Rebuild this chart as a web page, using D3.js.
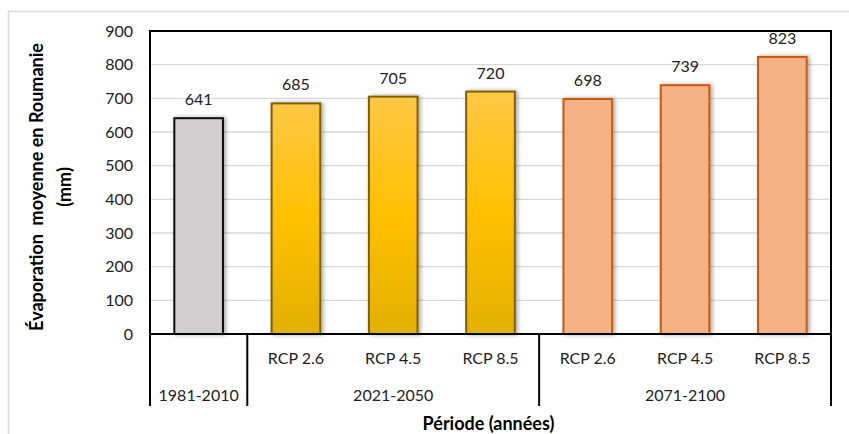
<!DOCTYPE html>
<html>
<head>
<meta charset="utf-8">
<script src="https://cdn.jsdelivr.net/npm/d3@7"></script>
<style>
  html, body { margin: 0; padding: 0; background: #fff; }
  svg { display: block; }
</style>
</head>
<body>
<svg id="chart" width="849" height="434"></svg>
<script>
// Mean evaporation in Romania (mm) per period and scenario
const periods   = ["1981-2010", "2021-2050", "2071-2100"];
const scenarios = ["", "RCP 2.6", "RCP 4.5", "RCP 8.5", "RCP 2.6", "RCP 4.5", "RCP 8.5"];
const groupOf   = [0, 1, 1, 1, 2, 2, 2];
const values    = [641, 685, 705, 720, 698, 739, 823];
const yTicks    = [0, 100, 200, 300, 400, 500, 600, 700, 800, 900];

const font = "Lato, 'Open Sans', sans-serif";
const fs = 16;
const svg = d3.select("#chart");

const plot = { left: 150, right: 831, top: 31, bottom: 334 };
const catBottom = 406;

// chart frame
svg.append("rect")
  .attr("x", 8.5).attr("y", 11.5).attr("width", 860).attr("height", 440)
  .attr("fill", "#fff").attr("stroke", "#d9d9d9").attr("stroke-width", 1.5);

const defs = svg.append("defs");
const gold = defs.append("linearGradient").attr("id", "gold").attr("x1", 0).attr("y1", 0).attr("x2", 0).attr("y2", 1);
gold.append("stop").attr("offset", "0%").attr("stop-color", "#ffc845");
gold.append("stop").attr("offset", "50%").attr("stop-color", "#ffc000");
gold.append("stop").attr("offset", "100%").attr("stop-color", "#e2b000");

const shadow = defs.append("filter").attr("id", "shadow")
  .attr("x", "-30%").attr("y", "-10%").attr("width", "160%").attr("height", "120%");
shadow.append("feGaussianBlur").attr("in", "SourceAlpha").attr("stdDeviation", 2).attr("result", "b");
shadow.append("feOffset").attr("in", "b").attr("dx", 1.5).attr("dy", 0).attr("result", "o");
shadow.append("feComponentTransfer").attr("in", "o").attr("result", "s")
  .append("feFuncA").attr("type", "linear").attr("slope", 0.35);
const merge = shadow.append("feMerge");
merge.append("feMergeNode").attr("in", "s");
merge.append("feMergeNode").attr("in", "SourceGraphic");

const x = d3.scaleBand().domain(d3.range(values.length))
  .range([plot.left, plot.right]).paddingInner(0.5).paddingOuter(0.25);
const band = (plot.right - plot.left) / values.length;
const y = d3.scaleLinear().domain([0, 900]).range([plot.bottom, plot.top]);

// gridlines
svg.append("g").selectAll("line").data(yTicks.filter(t => t > 0 && t < 900)).join("line")
  .attr("x1", plot.left).attr("x2", plot.right)
  .attr("y1", d => y(d)).attr("y2", d => y(d))
  .attr("stroke", "#d9d9d9").attr("stroke-width", 1.3);

// y tick labels
svg.append("g").selectAll("text").data(yTicks).join("text")
  .attr("x", 133).attr("y", d => y(d)).attr("dy", "0.35em")
  .attr("text-anchor", "end").attr("font-family", font).attr("font-size", fs)
  .attr("fill", "#222").text(d => d);

const fills   = ["#d0cece", "url(#gold)", "#f4b183"];
const strokes = ["#111111", "#7f6000", "#c55a11"];

// bars
svg.append("g").selectAll("rect").data(values).join("rect")
  .attr("x", (d, i) => x(i)).attr("width", x.bandwidth())
  .attr("y", d => y(d)).attr("height", d => y(0) - y(d))
  .attr("fill", (d, i) => fills[groupOf[i]])
  .attr("stroke", (d, i) => strokes[groupOf[i]])
  .attr("stroke-width", 2)
  .attr("filter", "url(#shadow)");

// value labels
svg.append("g").selectAll("text").data(values).join("text")
  .attr("x", (d, i) => x(i) + x.bandwidth() / 2).attr("y", d => y(d) - 13)
  .attr("text-anchor", "middle").attr("font-family", font).attr("font-size", fs)
  .attr("fill", "#222").text(d => d);

// plot area border
svg.append("rect")
  .attr("x", plot.left).attr("y", plot.top)
  .attr("width", plot.right - plot.left).attr("height", plot.bottom - plot.top)
  .attr("fill", "none").attr("stroke", "#000").attr("stroke-width", 2);

// category axis: group separators
const groupStart = periods.map((p, g) => groupOf.indexOf(g));
const bounds = [...groupStart, values.length];
svg.append("g").selectAll("line").data(bounds).join("line")
  .attr("x1", i => plot.left + i * band).attr("x2", i => plot.left + i * band)
  .attr("y1", plot.bottom).attr("y2", catBottom)
  .attr("stroke", "#000").attr("stroke-width", 2);

// scenario labels
svg.append("g").selectAll("text").data(scenarios).join("text")
  .attr("x", (d, i) => plot.left + (i + 0.5) * band).attr("y", 358).attr("dy", "0.35em")
  .attr("text-anchor", "middle").attr("font-family", font).attr("font-size", fs)
  .attr("fill", "#222").text(d => d);

// period labels
svg.append("g").selectAll("text").data(periods).join("text")
  .attr("x", (d, g) => plot.left + (bounds[g] + bounds[g + 1]) / 2 * band).attr("y", 395).attr("dy", "0.35em")
  .attr("text-anchor", "middle").attr("font-family", font).attr("font-size", fs)
  .attr("fill", "#222").text(d => d);

// axis titles
svg.append("text")
  .attr("x", (plot.left + plot.right) / 2 - 2).attr("y", 424).attr("dy", "0.35em")
  .attr("text-anchor", "middle").attr("font-family", font).attr("font-size", 18)
  .attr("font-weight", "bold").attr("fill", "#000").text("Période (années)");

const yTitle = svg.append("text")
  .attr("transform", "translate(0,187) rotate(-90)")
  .attr("text-anchor", "middle").attr("font-family", font).attr("font-size", 18)
  .attr("font-weight", "bold").attr("fill", "#000");
yTitle.append("tspan").attr("x", 0).attr("y", 37).attr("dy", "0.35em").text("Évaporation\u00a0 moyenne en Roumanie");
yTitle.append("tspan").attr("x", 0).attr("y", 65).attr("dy", "0.35em").text("(mm)");
</script>
</body>
</html>
